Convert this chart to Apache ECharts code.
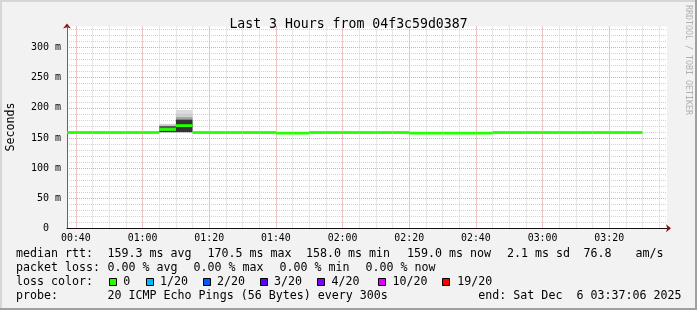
<!DOCTYPE html>
<html><head><meta charset="utf-8">
<script src="https://cdn.jsdelivr.net/npm/echarts@6/dist/echarts.min.js"></script>
<style>html,body{margin:0;padding:0;background:#f2f2f2}#c{width:697px;height:310px}</style>
</head><body><div id="c"></div>
<script>
// ---- data ----
const titleText = 'Last 3 Hours from 04f3c59d0387';
const startTime = '00:37:20';
const endTime = '03:37:20';
const stepSeconds = 300;
const xMajorTicks = ['00:40','01:00','01:20','01:40','02:00','02:20','02:40','03:00','03:20'];
const xMinorTicks = ['00:40','00:45','00:50','00:55','01:00','01:05','01:10','01:15','01:20','01:25','01:30','01:35','01:40','01:45','01:50','01:55','02:00','02:05','02:10','02:15','02:20','02:25','02:30','02:35','02:40','02:45','02:50','02:55','03:00','03:05','03:10','03:15','03:20','03:25','03:30','03:35'];
const yMajorTicks = [0,50,100,150,200,250,300];
const yMinorTicks = [0,10,20,30,40,50,60,70,80,90,100,110,120,130,140,150,160,170,180,190,200,210,220,230,240,250,260,270,280,290,300,310,320,330];
const yMax = 335;
const intervalStarts = ['00:35','00:40','00:45','00:50','00:55','01:00','01:05','01:10','01:15','01:20','01:25','01:30','01:35','01:40','01:45','01:50','01:55','02:00','02:05','02:10','02:15','02:20','02:25','02:30','02:35','02:40','02:45','02:50','02:55','03:00','03:05','03:10','03:15','03:20','03:25'];
const medianRtt = [159.0,159.0,159.0,159.0,159.0,159.0,164.0,170.5,159.0,159.0,159.0,159.0,159.0,158.0,158.0,159.0,159.0,159.0,159.0,159.0,159.0,158.0,158.0,158.0,158.0,158.0,159.0,159.0,159.0,159.0,159.0,159.0,159.0,159.0,159.0];
const smokeSlot  = ['01:05','01:05','01:05','01:10','01:10','01:10','01:10','01:10'];
const smokeLow   = [159.5,166.0,170.5,159.5,180.0,182.5,185.5,191.0];
const smokeHigh  = [166.0,170.5,173.3,180.0,182.5,185.5,191.0,196.5];
const smokeShade = ['#2b2b2b','#5a5a5a','#d0d0d0','#333333','#6e6e6e','#a8a8a8','#cccccc','#dcdcdc'];
const lossLabels = ['0','1/20','2/20','3/20','4/20','10/20','19/20'];
const lossColors = ['#26ff00','#00b8ff','#0059ff','#5e00ff','#7e00ff','#dd00ff','#ff0000'];
const legendLine1 = [['median rtt:',16],['159.3 ms avg',107.5],['170.5 ms max',207.5],['158.0 ms min',306],['159.0 ms now',407],['2.1 ms sd',507],['76.8',583.5],['am/s',635.5]];
const legendLine2 = [['packet loss:',16],['0.00 % avg',107.5],['0.00 % max',193.5],['0.00 % min',279.5],['0.00 % now',365.5]];
const legendLine3Title = 'loss color:';
const lossBoxX = [109,145.7,202.7,259.7,316.7,378,442.3];
const lossTextX = [123.3,160,217,274,331.5,392.5,457.3];
const legendLine4 = [['probe:',16],['20 ICMP Echo Pings (56 Bytes) every 300s',107.5],['end: Sat Dec  6 03:37:06 2025',478.3]];

// ---- helpers ----
function toSec(s){const p=s.split(':').map(Number);return p[0]*3600+p[1]*60+(p[2]||0);}
function fmt(v){const h=Math.floor(v/3600),m=Math.floor((v%3600)/60);return String(h).padStart(2,'0')+':'+String(m).padStart(2,'0');}
const MONO='"DejaVu Sans Mono", monospace';
const LF='11.65px '+MONO;

const medianData = intervalStarts.map((s,i)=>[toSec(s), toSec(s)+stepSeconds, medianRtt[i]]);
const smokeData = smokeSlot.map((s,i)=>[toSec(s), toSec(s)+stepSeconds, smokeLow[i], smokeHigh[i], i]);

function clampX(x, cs){return Math.max(cs.x, Math.min(cs.x+cs.width, x));}

const graphics = [];
function addText(t,x,y,extra){graphics.push(Object.assign({type:'text',x:x,y:y,silent:true,style:{text:t,font:LF,fill:'#000',verticalAlign:'middle',align:'left'}},extra||{}));}
legendLine1.forEach(c=>addText(c[0],c[1],254.3));
legendLine2.forEach(c=>addText(c[0],c[1],268.3));
addText(legendLine3Title,16,282.3);
lossLabels.forEach((l,i)=>{
  graphics.push({type:'rect',silent:true,shape:{x:Math.round(lossBoxX[i])+0.5,y:278.5,width:7,height:7},style:{fill:lossColors[i],stroke:'#000',lineWidth:1}});
  addText(l,lossTextX[i],282.3);
});
legendLine4.forEach(c=>addText(c[0],c[1],296.2));
// axis title
graphics.push({type:'text',x:11,y:127,rotation:Math.PI/2,silent:true,style:{text:'Seconds',font:LF,fill:'#000',align:'center',verticalAlign:'middle'}});
// watermark
graphics.push({type:'text',x:688,y:60,rotation:-Math.PI/2,silent:true,style:{text:'RRDTOOL / TOBI OETIKER',font:'8.3px '+MONO,fill:'#b0b0b0',align:'center',verticalAlign:'middle'}});
// frame
graphics.push({type:'rect',silent:true,shape:{x:0,y:0,width:697,height:2},style:{fill:'#d6d6d6'}});
graphics.push({type:'rect',silent:true,shape:{x:0,y:0,width:2,height:310},style:{fill:'#d6d6d6'}});
graphics.push({type:'rect',silent:true,shape:{x:0,y:308,width:697,height:2},style:{fill:'#a0a0a0'}});
graphics.push({type:'rect',silent:true,shape:{x:695,y:0,width:2,height:310},style:{fill:'#a0a0a0'}});

const xMin = toSec(startTime), xMax = toSec(endTime);
const MAJ = '#f4a0a0', MIN = '#d2d2d2';

const option = {
  backgroundColor:'#f2f2f2',
  animation:false,
  title:{text:titleText,left:'center',top:12.3,textStyle:{fontFamily:MONO,fontSize:13.2,fontWeight:'normal',color:'#000',lineHeight:14}},
  grid:{left:67,right:30,top:26.5,bottom:81.7,show:true,backgroundColor:'#fff',borderWidth:0},
  xAxis:[
    {type:'value',min:xMin,max:xMax,position:'bottom',z:1,
     axisLine:{show:true,lineStyle:{color:'#111',width:1}},
     axisTick:{show:false,customValues:xMajorTicks.map(toSec)},
     axisLabel:{customValues:xMajorTicks.map(toSec),formatter:fmt,fontFamily:MONO,fontSize:9.9,color:'#000',margin:5},
     splitLine:{show:true,lineStyle:{color:MAJ,type:[1,1],width:1}}},
    {type:'value',min:xMin,max:xMax,position:'bottom',z:0,
     axisLine:{show:true,symbol:['none','arrow'],symbolSize:[6,5],symbolOffset:[0,4],lineStyle:{color:'#8b1010',width:0}},
     axisTick:{show:false,customValues:xMinorTicks.map(toSec)},
     axisLabel:{show:false},
     splitLine:{show:true,lineStyle:{color:MIN,type:[1,1],width:1}}}
  ],
  yAxis:[
    {type:'value',min:0,max:yMax,position:'left',z:1,
     axisLine:{show:true,lineStyle:{color:'#666',width:1}},
     axisTick:{show:false,customValues:yMajorTicks},
     axisLabel:{customValues:yMajorTicks,formatter:v=>v===0?'0  ':v+' m',fontFamily:MONO,fontSize:10,color:'#000',margin:6},
     splitLine:{show:true,lineStyle:{color:MAJ,type:[1,1],width:1}}},
    {type:'value',min:0,max:yMax,position:'left',z:0,
     axisLine:{show:true,symbol:['none','arrow'],symbolSize:[6,5],symbolOffset:[0,3],lineStyle:{color:'#8b1010',width:0}},
     axisTick:{show:false,customValues:yMinorTicks},
     axisLabel:{show:false},
     splitLine:{show:true,lineStyle:{color:MIN,type:[1,1],width:1}}}
  ],
  series:[
    {type:'custom',name:'smoke',xAxisIndex:0,yAxisIndex:0,data:smokeData,encode:{x:[0,1],y:[2,3]},z:2,
     renderItem:function(params,api){
       const cs=params.coordSys;
       const p0=api.coord([api.value(0),api.value(3)]);
       const p1=api.coord([api.value(1),api.value(2)]);
       const x0=clampX(p0[0],cs),x1=clampX(p1[0],cs);
       return {type:'rect',shape:{x:x0,y:p0[1],width:x1-x0,height:p1[1]-p0[1]},style:{fill:smokeShade[api.value(4)]}};
     }},
    {type:'custom',name:'median rtt',xAxisIndex:0,yAxisIndex:0,data:medianData,encode:{x:[0,1],y:2},z:3,
     renderItem:function(params,api){
       const cs=params.coordSys;
       const p0=api.coord([api.value(0),api.value(2)]);
       const p1=api.coord([api.value(1),api.value(2)]);
       return {type:'line',shape:{x1:clampX(p0[0],cs),y1:p0[1],x2:clampX(p1[0],cs),y2:p1[1]},style:{stroke:lossColors[0],lineWidth:2.8}};
     }}
  ],
  graphic:graphics
};
const chart = echarts.init(document.getElementById('c'),null,{renderer:'canvas'});
chart.setOption(option);
</script></body></html>
